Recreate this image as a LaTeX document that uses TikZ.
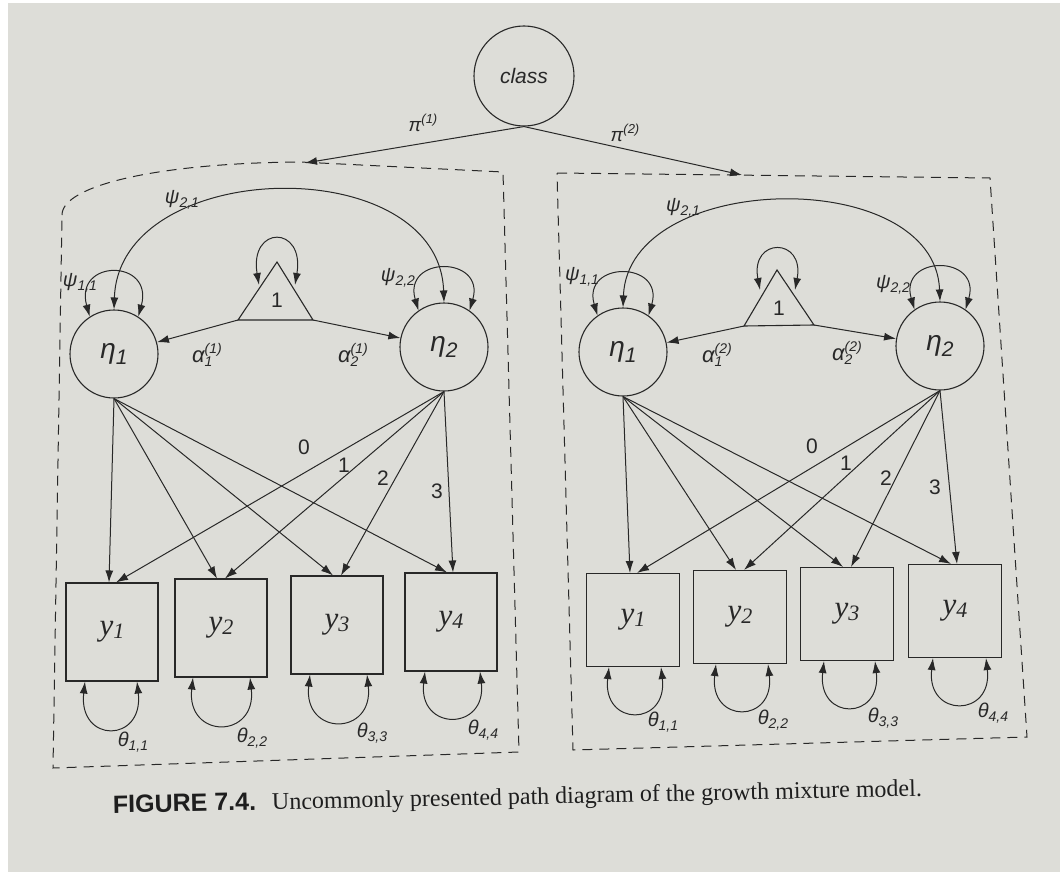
\documentclass[tikz,border=0pt]{standalone}
\usepackage{fontspec}
\setmainfont{Liberation Serif}
\newfontfamily\arial{Liberation Sans}
\usetikzlibrary{arrows.meta}
\definecolor{page}{RGB}{221,221,216}
\definecolor{ink}{RGB}{40,40,40}
\newcommand{\latlbl}[2]{{\arial\itshape\fontsize{28}{28}\selectfont #1\raisebox{-6pt}{\fontsize{21}{21}\selectfont #2}}}
\newcommand{\parlbl}[2]{{\arial\itshape\fontsize{20}{20}\selectfont #1\raisebox{-4pt}{\fontsize{14}{14}\selectfont #2}}}
\newcommand{\obslbl}[2]{{\itshape\fontsize{31}{31}\selectfont #1\raisebox{-3pt}{\fontsize{22}{22}\selectfont #2}}}
\newcommand{\albl}[3]{{\arial\itshape\fontsize{22}{22}\selectfont #1\rlap{\raisebox{-4pt}{\fontsize{14}{14}\selectfont #2}}\raisebox{9pt}{\fontsize{14}{14}\selectfont(#3)}}}
\newcommand{\plbl}[2]{{\arial\itshape\fontsize{19}{19}\selectfont #1\raisebox{8pt}{\fontsize{13}{13}\selectfont(#2)}}}
\tikzset{
 lat/.style={circle, draw=ink, line width=1.1pt, minimum size=88pt, inner sep=0pt, text=ink},
 obsL/.style={rectangle, draw=ink, line width=1.1pt, minimum width=92pt, minimum height=98pt, inner sep=0pt, text=ink},
 obsR/.style={rectangle, draw=ink, line width=1.1pt, minimum width=93pt, minimum height=93pt, inner sep=0pt, text=ink},
 arr/.style={-{Latex[length=12pt,width=8pt]}, draw=ink, line width=1pt},
 cov/.style={{Latex[length=12pt,width=8pt]}-{Latex[length=12pt,width=8pt]}, draw=ink, line width=1pt},
 grp/.style={draw=ink, line width=1pt, dash pattern=on 10pt off 7pt},
 lab/.style={text=ink, inner sep=0pt},
 num/.style={text=ink, inner sep=0pt, font=\arial\fontsize{21}{21}\selectfont},
 tri/.style={draw=ink, line width=1.1pt},
}
\begin{document}
\begin{tikzpicture}[x=1pt,y=-1pt]
\useasboundingbox (0,0) rectangle (1060,872);
\fill[page] (0,0) rectangle (1060,872);
\fill[white] (0,0) rectangle (8,872);
\fill[white] (0,0) rectangle (1060,3);

% class node
\node[circle, draw=ink, line width=1.1pt, minimum size=100pt, inner sep=0pt, text=ink,
      font=\arial\itshape\fontsize{21}{21}\selectfont] (class) at (524,76) {class};
\coordinate (Lgrp) at (305,163);
\coordinate (Rgrp) at (742,175);
\draw[arr] (class.south) -- (Lgrp);
\draw[arr] (class.south) -- (Rgrp);
\node[lab] (pi1) at (423,123) {\plbl{π}{1}};
\node[lab] (pi2) at (625,133) {\plbl{π}{2}};

% group boxes
\draw[grp] (62,215) .. controls (62,185) and (160,163) .. (300,162) -- (503,172) -- (519,752) -- (53,768) -- cycle;
\draw[grp] (557,173) -- (990,178) -- (1027,737) -- (573,750) -- cycle;

% ================= LEFT PANEL =================
\node[lat] (Leta1) at (114,354) {\latlbl{η}{1}};
\node[lat] (Leta2) at (444,347) {\latlbl{η}{2}};
\coordinate (Ltop) at (277,262);
\coordinate (Lbl) at (238,320);
\coordinate (Lbr) at (313,320);
\draw[tri] (Lbl) -- (Ltop) -- (Lbr) -- cycle;
\node[lab, font=\arial\fontsize{21}{21}\selectfont] (Lone) at (277,300) {1};
\coordinate (Ltl) at (259,285);
\coordinate (Ltr) at (295,285);
\draw[cov] (Ltl) .. controls +(-10,-60) and +(10,-60) .. (Ltr);
\draw[arr] (Lbl) -- (Leta1);
\draw[arr] (Lbr) -- (Leta2);
\node[lab] (La1) at (207,355) {\albl{α}{1}{1}};
\node[lab] (La2) at (353,355) {\albl{α}{2}{1}};

\draw[cov] (Leta1.123) .. controls +(-16,-58) and +(16,-58) .. (Leta1.57);
\draw[cov] (Leta2.125) .. controls +(-16,-55) and +(16,-55) .. (Leta2.55);
\draw[cov] (Leta1.north) .. controls +(5,-153) and +(-5,-153) .. (Leta2.north);
\node[lab] (Lp21) at (182,200) {\parlbl{ψ}{2,1}};
\node[lab] (Lp11) at (80,283) {\parlbl{ψ}{1,1}};
\node[lab] (Lp22) at (398,278) {\parlbl{ψ}{2,2}};

\node[obsL] (Ly1) at (112,632) {\obslbl{y}{1}};
\node[obsL] (Ly2) at (221,628) {\obslbl{y}{2}};
\node[obsL] (Ly3) at (337,625) {\obslbl{y}{3}};
\node[obsL] (Ly4) at (451,622) {\obslbl{y}{4}};

\draw[arr] (Leta1.south) -- ([xshift=-3pt]Ly1.north);
\draw[arr] (Leta1.south) -- ([xshift=-4pt]Ly2.north);
\draw[arr] (Leta1.south) -- ([xshift=-4pt]Ly3.north);
\draw[arr] (Leta1.south) -- ([xshift=-4pt]Ly4.north);
\draw[arr] (Leta2.south) -- ([xshift=4pt]Ly1.north);
\draw[arr] (Leta2.south) -- ([xshift=4pt]Ly2.north);
\draw[arr] (Leta2.south) -- ([xshift=4pt]Ly3.north);
\draw[arr] (Leta2.south) -- ([xshift=2pt]Ly4.north);
\node[num] (L0) at (304,447) {0};
\node[num] (L1) at (344,465) {1};
\node[num] (L2) at (383,478) {2};
\node[num] (L3) at (437,491) {3};

\draw[cov] ([xshift=-27pt]Ly1.south) .. controls +(-7,62) and +(7,62) .. ([xshift=25pt]Ly1.south);
\draw[cov] ([xshift=-28pt]Ly2.south) .. controls +(-7,62) and +(7,62) .. ([xshift=29pt]Ly2.south);
\draw[cov] ([xshift=-27pt]Ly3.south) .. controls +(-7,62) and +(7,62) .. ([xshift=30pt]Ly3.south);
\draw[cov] ([xshift=-26pt]Ly4.south) .. controls +(-7,60) and +(7,60) .. ([xshift=29pt]Ly4.south);
\node[lab] (Lt1) at (133,742) {\parlbl{θ}{1,1}};
\node[lab] (Lt2) at (252,738) {\parlbl{θ}{2,2}};
\node[lab] (Lt3) at (372,733) {\parlbl{θ}{3,3}};
\node[lab] (Lt4) at (483,730) {\parlbl{θ}{4,4}};

% ================= RIGHT PANEL =================
\node[lat] (Reta1) at (623,352) {\latlbl{η}{1}};
\node[lat] (Reta2) at (940,346) {\latlbl{η}{2}};
\coordinate (Rtop) at (777,270);
\coordinate (Rbl) at (744,326);
\coordinate (Rbr) at (814,325);
\draw[tri] (Rbl) -- (Rtop) -- (Rbr) -- cycle;
\node[lab, font=\arial\fontsize{21}{21}\selectfont] (Rone) at (779,308) {1};
\coordinate (Rtl) at (760,290);
\coordinate (Rtr) at (795,290);
\draw[cov] (Rtl) .. controls +(-10,-53) and +(10,-53) .. (Rtr);
\draw[arr] (Rbl) -- (Reta1);
\draw[arr] (Rbr) -- (Reta2);
\node[lab] (Ra1) at (717,355) {\albl{α}{1}{2}};
\node[lab] (Ra2) at (847,353) {\albl{α}{2}{2}};

\draw[cov] (Reta1.125) .. controls +(-16,-55) and +(16,-55) .. (Reta1.55);
\draw[cov] (Reta2.125) .. controls +(-16,-55) and +(16,-55) .. (Reta2.55);
\draw[cov] (Reta1.north) .. controls +(5,-137) and +(-5,-137) .. (Reta2.north);
\node[lab] (Rp21) at (683,208) {\parlbl{ψ}{2,1}};
\node[lab] (Rp11) at (582,277) {\parlbl{ψ}{1,1}};
\node[lab] (Rp22) at (893,285) {\parlbl{ψ}{2,2}};

\node[obsR] (Ry1) at (633,620) {\obslbl{y}{1}};
\node[obsR] (Ry2) at (740,617) {\obslbl{y}{2}};
\node[obsR] (Ry3) at (847,614) {\obslbl{y}{3}};
\node[obsR] (Ry4) at (955,611) {\obslbl{y}{4}};

\draw[arr] (Reta1.south) -- ([xshift=-3pt]Ry1.north);
\draw[arr] (Reta1.south) -- ([xshift=-4pt]Ry2.north);
\draw[arr] (Reta1.south) -- ([xshift=-4pt]Ry3.north);
\draw[arr] (Reta1.south) -- ([xshift=-4pt]Ry4.north);
\draw[arr] (Reta2.south) -- ([xshift=4pt]Ry1.north);
\draw[arr] (Reta2.south) -- ([xshift=4pt]Ry2.north);
\draw[arr] (Reta2.south) -- ([xshift=4pt]Ry3.north);
\draw[arr] (Reta2.south) -- ([xshift=2pt]Ry4.north);
\node[num] (R0) at (812,446) {0};
\node[num] (R1) at (846,463) {1};
\node[num] (R2) at (886,478) {2};
\node[num] (R3) at (935,487) {3};

\draw[cov] ([xshift=-24pt]Ry1.south) .. controls +(-7,60) and +(7,60) .. ([xshift=28pt]Ry1.south);
\draw[cov] ([xshift=-24pt]Ry2.south) .. controls +(-7,60) and +(7,60) .. ([xshift=28pt]Ry2.south);
\draw[cov] ([xshift=-23pt]Ry3.south) .. controls +(-7,60) and +(7,60) .. ([xshift=28pt]Ry3.south);
\draw[cov] ([xshift=-22pt]Ry4.south) .. controls +(-7,60) and +(7,60) .. ([xshift=31pt]Ry4.south);
\node[lab] (Rt1) at (663,722) {\parlbl{θ}{1,1}};
\node[lab] (Rt2) at (773,720) {\parlbl{θ}{2,2}};
\node[lab] (Rt3) at (883,718) {\parlbl{θ}{3,3}};
\node[lab] (Rt4) at (993,713) {\parlbl{θ}{4,4}};

% caption
\node[anchor=base west, inner sep=0pt, text={rgb,255:red,30;green,30;blue,30}, rotate=1.2] (cap) at (113,813)
 {{\arial\bfseries\fontsize{25}{25}\selectfont FIGURE 7.4.}\hspace{16pt}{\fontsize{24}{24}\selectfont Uncommonly presented path diagram of the growth mixture model.}};
\end{tikzpicture}
\end{document}
